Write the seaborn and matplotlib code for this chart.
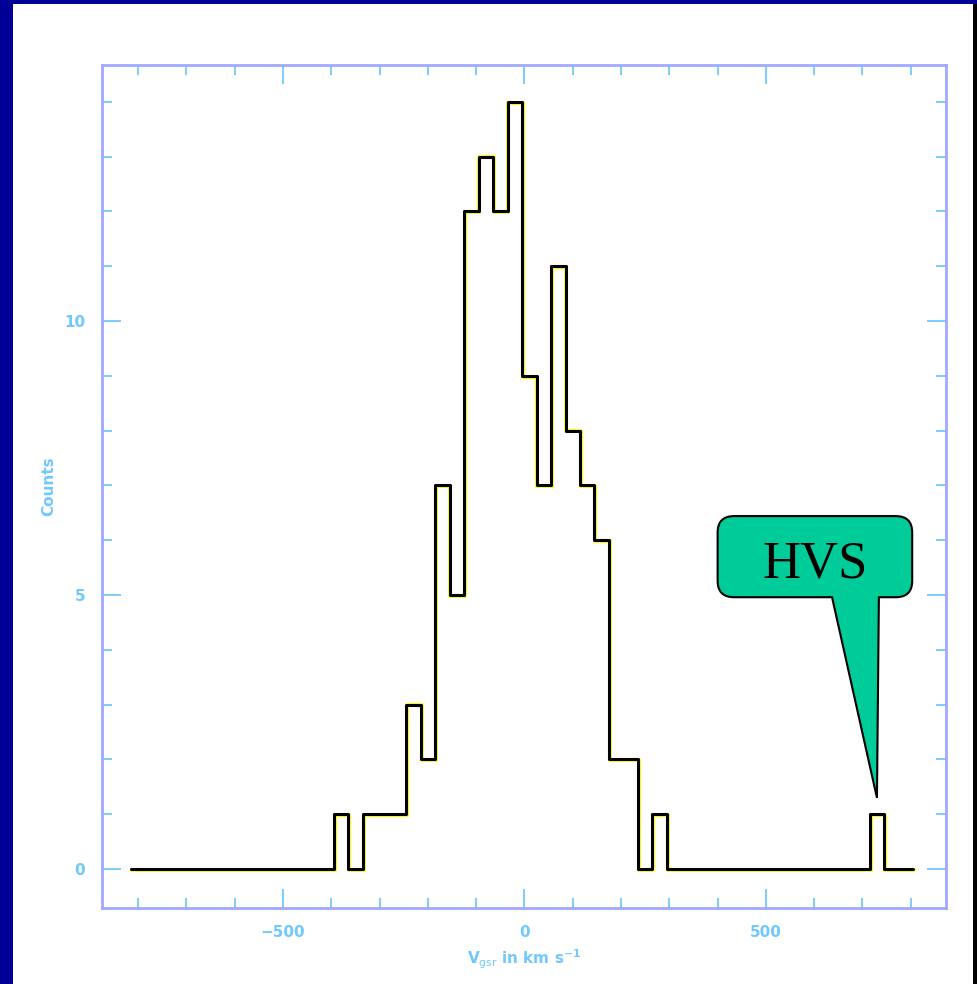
import numpy as np
import pandas as pd
import seaborn as sns
import matplotlib
matplotlib.use("Agg")
import matplotlib.pyplot as plt
import matplotlib.patheffects as pe
from matplotlib.path import Path
from matplotlib.patches import PathPatch, Rectangle
from matplotlib.ticker import MultipleLocator

# ---- data ----
bin_start = -815
bin_width = 30
counts = [0, 0, 0, 0, 0, 0, 0, 0, 0, 0, 0, 0, 0, 0,
          1, 0, 1, 1, 1, 3, 2, 7, 5, 12, 13, 12, 14, 9,
          7, 11, 8, 7, 6, 2, 2, 0, 1,
          0, 0, 0, 0, 0, 0, 0, 0, 0, 0, 0, 0, 0, 0,
          1, 0, 0]
x_ticks = [-500, 0, 500]
y_ticks = [0, 5, 10]
x_label = r"V$_{\rm gsr}$ in km s$^{-1}$"
y_label = "Counts"
callout_text = "HVS"

edges = bin_start + bin_width * np.arange(len(counts) + 1)
centers = (edges[:-1] + edges[1:]) / 2
df = pd.DataFrame({"v": centers, "n": counts})

sns.set_theme(style="white")
plt.rcParams['font.family'] = ['DejaVu Sans']
plt.rcParams['mathtext.default'] = 'bf'

fig = plt.figure(figsize=(9.78, 9.84), dpi=100)
fig.patch.set_facecolor("white")
ax = fig.add_axes([102/978, 1-908/984, (946-102)/978, (908-65)/984])

sns.histplot(data=df, x="v", weights="n", binwidth=bin_width,
             binrange=(float(edges[0]), float(edges[-1])), element="step", fill=False,
             color="black", linewidth=2.2, ax=ax,
             path_effects=[pe.Stroke(linewidth=2.8, foreground="#ffff00", offset=(0.6, -0.6)),
                           pe.Normal()])

ax.set_xlim(-875, 873)
ax.set_ylim(-0.71, 14.67)

frame_c = "#a0a8ff"
text_c = "#70c8ff"
for s in ax.spines.values():
    s.set_color(frame_c)
    s.set_linewidth(2)
    s.set_visible(True)

ax.set_xticks(x_ticks)
ax.set_yticks(y_ticks)
ax.xaxis.set_minor_locator(MultipleLocator(100))
ax.yaxis.set_minor_locator(MultipleLocator(1))
ax.tick_params(which="both", direction="in", top=True, right=True, bottom=True, left=True,
               color=text_c, labelcolor=text_c, labelsize=11)
ax.tick_params(which="major", length=14, width=1.3)
ax.tick_params(which="minor", length=7, width=1.3)
ax.tick_params(axis="x", which="major", pad=12)
ax.tick_params(axis="y", which="major", pad=12)
for lab in ax.get_xticklabels() + ax.get_yticklabels():
    lab.set_fontweight("bold")
ax.set_xlabel(x_label, color=text_c, fontsize=11, fontweight="bold", labelpad=6)
ax.set_ylabel(y_label, color=text_c, fontsize=11, fontweight="bold", labelpad=6)

# ---- callout ----
x0, x1, y0, y1 = 400, 803, 4.96, 6.44
rx, ry = 34, 0.3
tl, tr = 637, 734
tip = (730, 1.3)
verts = [(x0 + rx, y1), (x1 - rx, y1), (x1, y1), (x1, y1 - ry), (x1, y0 + ry),
         (x1, y0), (x1 - rx, y0), (tr, y0), tip, (tl, y0), (x0 + rx, y0),
         (x0, y0), (x0, y0 + ry), (x0, y1 - ry), (x0, y1), (x0 + rx, y1), (x0 + rx, y1)]
codes = [Path.MOVETO, Path.LINETO, Path.CURVE3, Path.CURVE3, Path.LINETO,
         Path.CURVE3, Path.CURVE3, Path.LINETO, Path.LINETO, Path.LINETO, Path.LINETO,
         Path.CURVE3, Path.CURVE3, Path.LINETO, Path.CURVE3, Path.CURVE3, Path.CLOSEPOLY]
ax.add_patch(PathPatch(Path(verts, codes), facecolor="#00cc99", edgecolor="black",
                       linewidth=1.5, zorder=5))
ax.text(602, 5.55, callout_text, fontsize=38,
        family="Liberation Serif", ha="center", va="center", color="black", zorder=6)

# ---- slide border ----
fig.patches.append(Rectangle((0, 0), 13/978, 1, transform=fig.transFigure,
                             facecolor="#000099", edgecolor="none", zorder=-1))
fig.patches.append(Rectangle((0, 1-4/984), 1, 4/984, transform=fig.transFigure,
                             facecolor="#000099", edgecolor="none", zorder=-1))
fig.patches.append(Rectangle((973/978, 0), 5/978, 1-4/984, transform=fig.transFigure,
                             facecolor="black", edgecolor="none", zorder=-1))

fig.savefig("out.png", dpi=100)
